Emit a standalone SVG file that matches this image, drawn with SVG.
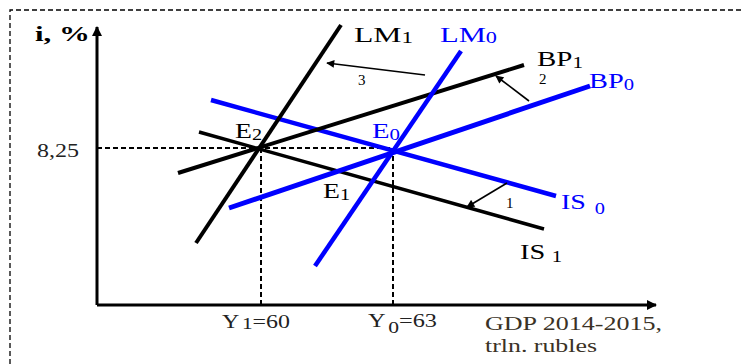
<svg xmlns="http://www.w3.org/2000/svg" width="744" height="364" viewBox="0 0 744 364" font-family="'Liberation Serif', 'DejaVu Serif', serif">
<defs>
<marker id="ah" viewBox="0 0 10 10" refX="9" refY="5" markerWidth="10" markerHeight="8" markerUnits="userSpaceOnUse" orient="auto"><path d="M0,0 L10,5 L0,10 z" fill="#000"/></marker>
<marker id="axh" viewBox="0 0 10 10" refX="9" refY="5" markerWidth="12" markerHeight="10" markerUnits="userSpaceOnUse" orient="auto"><path d="M0,0 L10,5 L0,10 z" fill="#000"/></marker>
</defs>
<style>
.frame{fill:none;stroke:#000;stroke-width:1.3;stroke-dasharray:5,3}
.axis{stroke:#000;stroke-width:3;fill:none;marker-end:url(#axh)}
.guide{stroke:#000;stroke-width:2;stroke-dasharray:5,3;fill:none}
.blk{stroke:#000;stroke-width:4;stroke-linecap:butt}
.blu{stroke:#0000ff;stroke-width:4.5;stroke-linecap:butt}
.shift{stroke:#000;stroke-width:1.6;marker-end:url(#ah)}
text{font-family:"Liberation Serif","DejaVu Serif",serif}
.lab{font-size:22px;fill:#000}
.labb{font-size:22px;fill:#0000ff}
.sub{font-size:16px}
.num{font-size:15px;fill:#000}
.tick{font-size:18px;fill:#222}
.gdp{font-size:18px;fill:#3a3226}
</style>
<path class="frame" d="M10,364 V10 H744"/>
<g id="axes">
<line class="axis" x1="97" y1="305" x2="97" y2="27"/>
<line class="axis" x1="97" y1="305" x2="656" y2="305"/>
<text x="35" y="41" textLength="55" lengthAdjust="spacingAndGlyphs" style="font-size:21px;font-weight:bold">i, %</text>
<text class="tick" x="37" y="157" textLength="42" lengthAdjust="spacingAndGlyphs">8,25</text>
</g>
<g id="guides">
<path class="guide" d="M97,148 H393"/>
<path class="guide" d="M261,148 V305"/>
<path class="guide" d="M393,148 V305"/>
</g>
<g id="IS1"><line class="blk" x1="199" y1="132" x2="544" y2="229" style="stroke-width:3.5"/>
<text class="lab" x="520" y="259" textLength="42" lengthAdjust="spacingAndGlyphs">IS<tspan class="sub" dx="5" dy="3">1</tspan></text></g>
<g id="IS0"><line class="blu" x1="211" y1="100" x2="556" y2="196"/>
<text class="labb" x="561" y="209" textLength="44" lengthAdjust="spacingAndGlyphs">IS<tspan class="sub" dx="7" dy="5">0</tspan></text></g>
<g id="BP1"><line class="blk" x1="178" y1="173" x2="524" y2="65"/>
<text class="lab" x="537" y="66" textLength="46" lengthAdjust="spacingAndGlyphs">BP<tspan class="sub" dy="2">1</tspan></text></g>
<g id="BP0"><line class="blu" x1="229" y1="208" x2="590" y2="86" style="stroke-width:5"/>
<text class="labb" x="589" y="88" textLength="45" lengthAdjust="spacingAndGlyphs">BP<tspan class="sub" dy="2">0</tspan></text></g>
<g id="LM1"><line class="blk" x1="196" y1="243" x2="341" y2="25"/>
<text class="lab" x="354" y="42" textLength="59" lengthAdjust="spacingAndGlyphs">LM<tspan class="sub" dy="1">1</tspan></text></g>
<g id="LM0"><line class="blu" x1="315" y1="266" x2="461" y2="51"/>
<text class="labb" x="440" y="42" textLength="57" lengthAdjust="spacingAndGlyphs">LM<tspan class="sub" dy="1">0</tspan></text></g>
<g id="E2"><text class="lab" x="235" y="138" textLength="27" lengthAdjust="spacingAndGlyphs">E<tspan class="sub" dy="2">2</tspan></text></g>
<g id="E0"><text class="labb" x="372" y="138" textLength="28" lengthAdjust="spacingAndGlyphs">E<tspan class="sub" dy="2">0</tspan></text></g>
<g id="E1"><text class="lab" x="323" y="198" textLength="27" lengthAdjust="spacingAndGlyphs">E<tspan class="sub" dy="2">1</tspan></text></g>
<g id="connectors">
<line class="shift" x1="425" y1="75" x2="327" y2="63"/>
<line class="shift" x1="529" y1="101" x2="496" y2="76"/>
<line class="shift" x1="507" y1="183" x2="467" y2="207"/>
</g>
<g id="shift-labels">
<text class="num" x="358" y="85">3</text>
<text class="num" x="539" y="84">2</text>
<text class="num" x="506" y="208">1</text>
</g>
<g id="ticks">
<text class="tick" x="222" y="328" textLength="68" lengthAdjust="spacingAndGlyphs">Y<tspan class="sub" dx="2" dy="1">1</tspan><tspan dy="-1">=60</tspan></text>
<text class="tick" x="368" y="327" textLength="69" lengthAdjust="spacingAndGlyphs">Y<tspan class="sub" dx="2" dy="6">0</tspan><tspan dy="-6">=63</tspan></text>
</g>
<g id="xlabel">
<text class="gdp" x="485" y="330" textLength="177" lengthAdjust="spacingAndGlyphs">GDP 2014-2015,</text>
<text class="gdp" x="485" y="352" textLength="112" lengthAdjust="spacingAndGlyphs">trln. rubles</text>
</g>
</svg>
